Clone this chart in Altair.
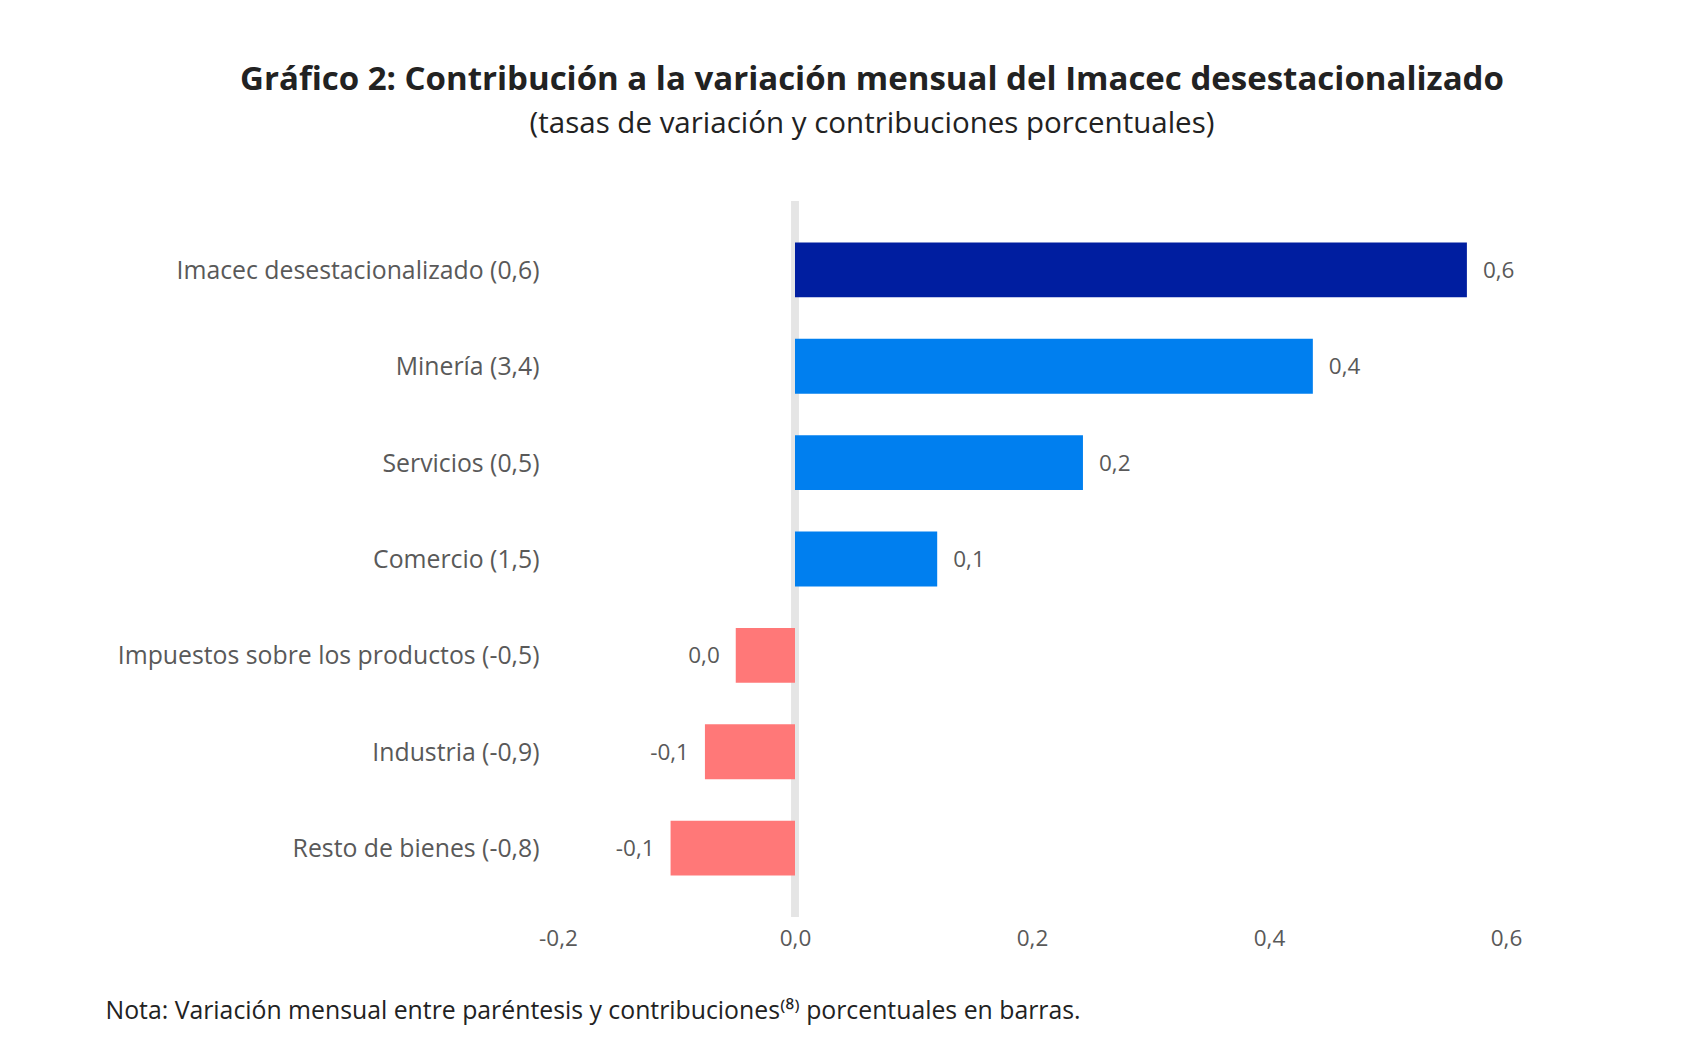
import altair as alt
import pandas as pd

categories = [
    "Imacec desestacionalizado (0,6)",
    "Minería (3,4)",
    "Servicios (0,5)",
    "Comercio (1,5)",
    "Impuestos sobre los productos (-0,5)",
    "Industria (-0,9)",
    "Resto de bienes (-0,8)",
]
contrib = [0.567, 0.437, 0.243, 0.120, -0.050, -0.076, -0.105]
labels = ["0,6", "0,4", "0,2", "0,1", "0,0", "-0,1", "-0,1"]
colors = ["#001EA0", "#007FEF", "#007FEF", "#007FEF", "#FF7878", "#FF7878", "#FF7878"]
x_ticks = [-0.2, 0.0, 0.2, 0.4, 0.6]

df = pd.DataFrame({"cat": categories, "v": contrib, "lab": labels, "col": colors})

FONT = "Open Sans"
GREY = "#595959"

x = alt.X(
    "v:Q",
    scale=alt.Scale(domain=[-0.2, 0.6], nice=False, zero=False),
    axis=alt.Axis(
        values=x_ticks,
        labelExpr="replace(replace(format(datum.value, '.1f'), '.', ','), '\u2212', '-')",
        domain=False, ticks=False, grid=False, labelFlush=False,
        labelFont=FONT, labelFontSize=22.5, labelColor=GREY, labelPadding=10,
        title="Nota: Variación mensual entre paréntesis y contribuciones\u207d\u2078\u207e porcentuales en barras.",
        titleX=-453, titleY=94, titleAlign="left", titleBaseline="middle",
        titleFont=FONT, titleFontSize=24.8, titleFontWeight="normal", titleColor="#222222",
    ),
)
y = alt.Y(
    "cat:N",
    sort=categories,
    scale=alt.Scale(paddingInner=0.43, paddingOuter=0.43),
    axis=alt.Axis(
        title=None, domain=False, ticks=False, grid=False, labelOffset=2,
        labelFont=FONT, labelFontSize=24.8, labelColor=GREY, labelPadding=19, labelLimit=600,
    ),
)

base = alt.Chart(df)

rule = base.mark_rule(color="#E5E5E5", strokeWidth=7).encode(x=alt.datum(0))
bars = base.mark_bar().encode(x=x, y=y, color=alt.Color("col:N", scale=None))
pos_txt = base.transform_filter("datum.v >= 0").mark_text(
    align="left", baseline="middle", dx=16, dy=1, font=FONT, fontSize=22.5, color=GREY
).encode(x="v:Q", y=alt.Y("cat:N", sort=categories), text="lab:N")
neg_txt = base.transform_filter("datum.v < 0").mark_text(
    align="right", baseline="middle", dx=-16, dy=1, font=FONT, fontSize=22.5, color=GREY
).encode(x="v:Q", y=alt.Y("cat:N", sort=categories), text="lab:N")

chart = alt.layer(rule, bars, pos_txt, neg_txt).properties(
    width=948,
    height=716,
    autosize=alt.AutoSizeParams(type="none"),
    padding={"left": 550, "top": 193, "right": 188, "bottom": 120},
    title=alt.TitleParams(
        text="Gráfico 2: Contribución a la variación mensual del Imacec desestacionalizado",
        subtitle="(tasas de variación y contribuciones porcentuales)",
        font=FONT, fontSize=33, fontWeight="bold", color="#222222",
        subtitleFont=FONT, subtitleFontSize=29.5, subtitleColor="#222222",
        anchor="middle", frame="group", dx=-160, offset=59, subtitlePadding=13,
    ),
).configure(background="white").configure_view(stroke=None, strokeWidth=0)

chart.save("out.html", embed_options={"renderer": "svg", "actions": False})
